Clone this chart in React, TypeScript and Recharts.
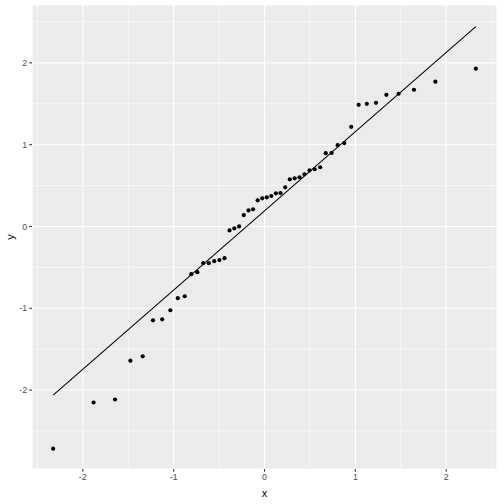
import { ScatterChart, Scatter, XAxis, YAxis, CartesianGrid, ReferenceLine, Label } from 'recharts';

// theoretical quantiles (x) and sample quantiles (y)
const theoretical = [
  -2.326, -1.881, -1.645, -1.476, -1.341, -1.227, -1.126, -1.036, -0.954, -0.878,
  -0.806, -0.739, -0.674, -0.613, -0.553, -0.496, -0.44, -0.385, -0.332, -0.279,
  -0.228, -0.176, -0.126, -0.075, -0.025, 0.025, 0.075, 0.126, 0.176, 0.228,
  0.279, 0.332, 0.385, 0.44, 0.496, 0.553, 0.613, 0.674, 0.739, 0.806,
  0.878, 0.954, 1.036, 1.126, 1.227, 1.341, 1.476, 1.645, 1.881, 2.326,
];
const sample = [
  -2.716, -2.152, -2.115, -1.641, -1.588, -1.147, -1.135, -1.024, -0.877, -0.853,
  -0.583, -0.559, -0.448, -0.448, -0.424, -0.411, -0.387, -0.048, -0.023, 0.001,
  0.14, 0.197, 0.21, 0.32, 0.344, 0.357, 0.373, 0.405, 0.409, 0.479,
  0.577, 0.589, 0.602, 0.638, 0.687, 0.7, 0.724, 0.896, 0.9, 0.994,
  1.02, 1.218, 1.488, 1.5, 1.512, 1.61, 1.623, 1.672, 1.77, 1.929,
];
const lineX = [-2.326, 2.326];
const lineY = [-2.061, 2.444];

const xTicks = [-2, -1, 0, 1, 2];
const yTicks = [-2, -1, 0, 1, 2];
const xMinor = [-2.5, -1.5, -0.5, 0.5, 1.5, 2.5];
const yMinor = [-2.5, -1.5, -0.5, 0.5, 1.5, 2.5];

const points = theoretical.map((x, i) => ({ x, y: sample[i] }));
const font = '"Liberation Sans", Arial, sans-serif';

const Dot = (props: any) => <circle cx={props.cx} cy={props.cy} r={2.1} fill="#000" />;

export default function App() {
  return (
    <div style={{ position: 'absolute', left: 0, top: 0 }}>
      <ScatterChart width={504} height={504} margin={{ top: 5, right: 7, bottom: 0, left: 0 }} style={{ fontFamily: font }}>
        <CartesianGrid stroke="#FFFFFF" strokeWidth={1.07} fill="#EBEBEB" />
        {xMinor.map((v) => (
          <ReferenceLine key={'vx' + v} x={v} stroke="#FFFFFF" strokeWidth={0.55} />
        ))}
        {yMinor.map((v) => (
          <ReferenceLine key={'hy' + v} y={v} stroke="#FFFFFF" strokeWidth={0.55} />
        ))}
        <XAxis
          type="number"
          dataKey="x"
          domain={[-2.559, 2.559]}
          ticks={xTicks}
          allowDataOverflow
          height={35}
          axisLine={false}
          tickLine={{ stroke: '#333333', strokeWidth: 1.07 }}
          tickSize={2.75}
          tickMargin={2.2}
          tick={{ fill: '#4D4D4D', fontSize: 8.8, fontFamily: font }}
        >
          <Label
            content={({ viewBox }: any) => (
              <text x={viewBox.x + viewBox.width / 2} y={497} textAnchor="middle" fontSize={11} fontFamily={font} fill="#000">
                x
              </text>
            )}
          />
        </XAxis>
        <YAxis
          type="number"
          dataKey="y"
          domain={[-2.965, 2.708]}
          ticks={yTicks}
          allowDataOverflow
          width={32}
          axisLine={false}
          tickLine={{ stroke: '#333333', strokeWidth: 1.07 }}
          tickSize={2.75}
          tickMargin={2.2}
          tick={{ fill: '#4D4D4D', fontSize: 8.8, fontFamily: font }}
        >
          <Label
            content={({ viewBox }: any) => {
              const cy = viewBox.y + viewBox.height / 2;
              return (
                <text x={10} y={cy} transform={`rotate(-90 10 ${cy})`} textAnchor="middle" dominantBaseline="central" fontSize={11} fontFamily={font} fill="#000">
                  y
                </text>
              );
            }}
          />
        </YAxis>
        <ReferenceLine
          segment={[
            { x: lineX[0], y: lineY[0] },
            { x: lineX[1], y: lineY[1] },
          ]}
          stroke="#000000"
          strokeWidth={1.07}
        />
        <Scatter data={points} shape={<Dot />} isAnimationActive={false} />
      </ScatterChart>
    </div>
  );
}
